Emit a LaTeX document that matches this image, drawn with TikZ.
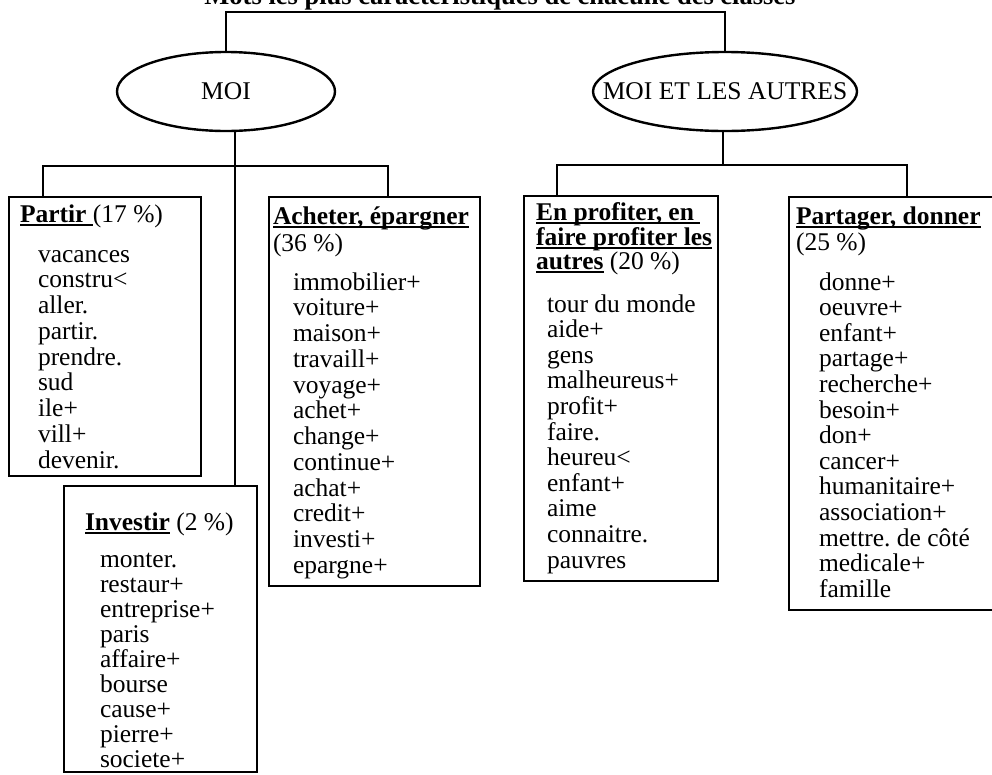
\documentclass[tikz,border=0pt]{standalone}
\usepackage{fontspec}
\setmainfont{Liberation Serif}
\usetikzlibrary{shapes.geometric}
\frenchspacing
% underline drawn as a rule cutting through the descenders
\newcommand\hul[1]{\setbox0\hbox{#1}\rlap{\rule[-3.9pt]{\wd0}{1.8pt}}\box0\relax}
\begin{document}
\begin{tikzpicture}[x=1pt,y=-1pt,
  every node/.style={font=\fontsize{25.5}{25.5}\selectfont, inner sep=0pt, outer sep=0pt},
  wire/.style={line width=2.3pt},
  oval/.style={draw, ellipse, line width=2.4pt},
  frame/.style={draw, line width=2.5pt, anchor=north west},
  word/.style={anchor=base west}]
\useasboundingbox (0,0) rectangle (992,774);

% title (its upper part lies above the page)
\node[font=\bfseries\fontsize{26.5}{26.5}\selectfont, anchor=base] (title) at (500,4)
  {Mots les plus caractéristiques de chacune des classes};

% the two main groups
\node[oval, minimum width=218pt, minimum height=79pt, label=center:MOI] (moi) at (226,91.5) {};
\node[oval, minimum width=264pt, minimum height=79pt, label=center:MOI ET LES AUTRES] (autres) at (725,91.5) {};

% class boxes
\node[frame, minimum width=192pt, minimum height=279pt] (partir) at (9,197) {};
\node[frame, minimum width=193pt, minimum height=286pt] (investir) at (64,486) {};
\node[frame, minimum width=211pt, minimum height=389pt] (acheter) at (269,197) {};
\node[frame, minimum width=194pt, minimum height=385pt] (profiter) at (524,196) {};
\node[frame, minimum width=212pt, minimum height=413pt] (partager) at (789,197) {};

% tree connectors
\draw[wire] (moi.north) -- ++(0,-40) -| (autres.north);
\coordinate (moi-foot) at (235,131);
\coordinate (lbar-w) at (43,166);
\coordinate (lbar-e) at (388,166);
\draw[wire] (moi-foot) -- (moi-foot |- investir.north);
\draw[wire] (lbar-w |- partir.north) -- (lbar-w) -- (lbar-e) -- (lbar-e |- acheter.north);
\coordinate (autres-foot) at (723,131);
\coordinate (rbar-w) at (557,165);
\coordinate (rbar-e) at (907,165);
\draw[wire] (autres-foot) -- (autres-foot |- rbar-w);
\draw[wire] (rbar-w |- profiter.north) -- (rbar-w) -- (rbar-e) -- (rbar-e |- partager.north);

% Partir
\node[word] (partir-head) at (20,222) {\hul{\bfseries Partir\ }(17 \%)};
\foreach \w [count=\i] in {vacances, constru<, aller., partir., prendre., sud, ile+, vill+, devenir.}
  \node[word] (partir-w\i) at (38,{262+25.75*(\i-1)}) {\w};

% Investir
\node[word] (investir-head) at (85,530) {\hul{\bfseries Investir}\ (2 \%)};
\foreach \w [count=\i] in {monter., restaur+, entreprise+, paris, affaire+, bourse, cause+, pierre+, societe+}
  \node[word] (investir-w\i) at (100,{567+25.1*(\i-1)}) {\w};

% Acheter, epargner
\node[word] (acheter-head) at (273,224) {\hul{\bfseries Acheter, épargner}};
\node[word] (acheter-pct) at (273,251) {(36 \%)};
\foreach \w [count=\i] in {immobilier+, voiture+, maison+, travaill+, voyage+, achet+, change+, continue+, achat+, credit+, investi+, epargne+}
  \node[word] (acheter-w\i) at (293,{290+25.75*(\i-1)}) {\w};

% En profiter
\node[word] (profiter-head1) at (536,220) {\hul{\bfseries En profiter, en\ }};
\node[word] (profiter-head2) at (536,245) {\hul{\bfseries faire profiter les}};
\node[word] (profiter-head3) at (536,269) {\hul{\bfseries autres}\ (20 \%)};
\foreach \w [count=\i] in {tour du monde, aide+, gens, malheureus+, profit+, faire., heureu<, enfant+, aime, connaitre., pauvres}
  \node[word] (profiter-w\i) at (547,{312+25.6*(\i-1)}) {\w};

% Partager, donner
\node[word] (partager-head) at (796,224) {\hul{\bfseries Partager, donner}};
\node[word] (partager-pct) at (796,250) {(25 \%)};
\foreach \w [count=\i] in {donne+, oeuvre+, enfant+, partage+, recherche+, besoin+, don+, cancer+, humanitaire+, association+, mettre. de côté, medicale+, famille}
  \node[word] (partager-w\i) at (819,{290+25.6*(\i-1)}) {\w};
\end{tikzpicture}
\end{document}
